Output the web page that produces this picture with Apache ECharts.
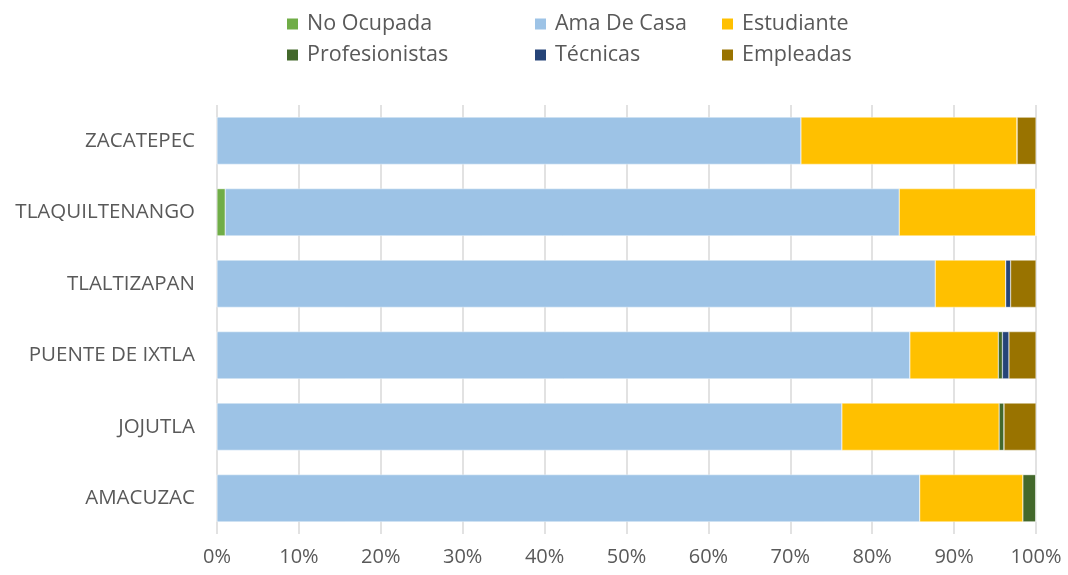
<!DOCTYPE html>
<html>
<head>
<meta charset="utf-8">
<script src="https://cdn.jsdelivr.net/npm/echarts@6/dist/echarts.min.js"></script>
<style>
  html, body { margin: 0; padding: 0; background: #fff; }
  #main { width: 1068px; height: 575px; }
</style>
</head>
<body>
<div id="main"></div>
<script>
// municipios, de abajo hacia arriba
var categories = ['AMACUZAC', 'JOJUTLA', 'PUENTE DE IXTLA', 'TLALTIZAPAN', 'TLAQUILTENANGO', 'ZACATEPEC'];

// porcentajes por ocupación
var noOcupada      = [0,    0,    0,    0,    1.0,  0];
var amaDeCasa      = [85.8, 76.3, 84.6, 87.7, 82.3, 71.3];
var estudiante     = [12.6, 19.2, 10.8, 8.6,  16.7, 26.4];
var profesionistas = [1.6,  0.6,  0.5,  0,    0,    0];
var tecnicas       = [0,    0,    0.8,  0.6,  0,    0];
var empleadas      = [0,    3.9,  3.3,  3.1,  0,    2.3];

var xTicks = [0, 10, 20, 30, 40, 50, 60, 70, 80, 90, 100];

var names = ['No Ocupada', 'Ama De Casa', 'Estudiante', 'Profesionistas', 'Técnicas', 'Empleadas'];
var values = [noOcupada, amaDeCasa, estudiante, profesionistas, tecnicas, empleadas];
var colors = ['#70AD47', '#9DC3E6', '#FFC000', '#43682B', '#264478', '#997300'];

var font = 'Open Sans';
var chart = echarts.init(document.getElementById('main'));

function legendCol(left, data) {
  return {
    orient: 'vertical',
    left: left,
    top: 8,
    itemWidth: 13,
    itemHeight: 13,
    itemGap: 9,
    icon: 'rect',
    selectedMode: false,
    data: data,
    textStyle: { fontFamily: font, fontSize: 21.5, color: '#595959', padding: [0, 0, 0, 3] }
  };
}

var option = {
  backgroundColor: '#ffffff',
  animation: false,
  color: colors,
  legend: [
    legendCol(280, ['No Ocupada', 'Profesionistas']),
    legendCol(528, ['Ama De Casa', 'Técnicas']),
    legendCol(715, ['Estudiante', 'Empleadas'])
  ],
  grid: { left: 217, right: 32, top: 105, bottom: 41, containLabel: false },
  xAxis: {
    type: 'value',
    min: 0,
    max: 100,
    interval: 10,
    axisLine: { show: false },
    axisTick: { show: false },
    splitLine: { lineStyle: { color: '#d9d9d9', width: 1.5 } },
    axisLabel: {
      fontFamily: font, fontSize: 20, color: '#595959', margin: 13,
      formatter: function (v) { return xTicks.indexOf(v) >= 0 ? v + '%' : ''; }
    }
  },
  yAxis: {
    type: 'category',
    data: categories,
    axisLine: { show: false },
    axisTick: { show: false },
    axisLabel: { fontFamily: font, fontSize: 20.5, color: '#595959', margin: 22 }
  },
  series: names.map(function (n, i) {
    return {
      name: n,
      type: 'bar',
      stack: 'total',
      barWidth: '66%',
      itemStyle: { color: colors[i], borderColor: '#ffffff', borderWidth: 0.4 },
      data: values[i]
    };
  })
};

chart.setOption(option);
</script>
</body>
</html>
